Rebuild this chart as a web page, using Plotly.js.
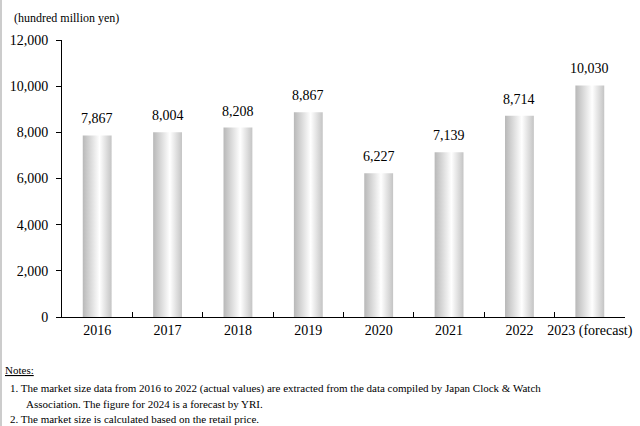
<!DOCTYPE html>
<html>
<head>
<meta charset="utf-8">
<script src="https://cdn.plot.ly/plotly-3.0.1.min.js"></script>
<style>
  html, body { margin: 0; padding: 0; background: #fff; }
  #chart { width: 640px; height: 426px; }
</style>
</head>
<body>
<div id="chart"></div>
<script>
const categories = ["2016", "2017", "2018", "2019", "2020", "2021", "2022", "2023 (forecast)"];
const marketSize = [7867, 8004, 8208, 8867, 6227, 7139, 8714, 10030];
const unitLabel = "(hundred million yen)";
const notesTitle = "Notes:";
const notesLines = [
  "1. The market size data from 2016 to 2022 (actual values) are extracted from the data compiled by Japan Clock & Watch",
  "Association. The figure for 2024 is a forecast by YRI.",
  "2. The market size is calculated based on the retail price."
];

const serif = "Liberation Serif";
const fmt = v => v.toLocaleString("en-US");

const trace = {
  type: "bar",
  x: categories,
  y: marketSize,
  width: 0.41,
  marker: { color: "#d0d0d0", line: { width: 0 } },
  hoverinfo: "skip"
};

const annotations = categories.map((c, i) => ({
  x: i, y: marketSize[i], xref: "x", yref: "y",
  text: fmt(marketSize[i]), showarrow: false,
  yanchor: "bottom", yshift: 7,
  font: { family: serif, size: 14, color: "#000" }
}));

annotations.push({
  xref: "paper", yref: "paper", x: (12 - 62) / 563, y: (317 - 18) / 277,
  xanchor: "left", yanchor: "middle",
  text: unitLabel, showarrow: false,
  font: { family: serif, size: 12, color: "#000" }
});

const allNotes = ["<u>" + notesTitle + "</u>"].concat(notesLines);
const noteX = [3, 8, 24, 8];
const noteY = [370, 388, 404, 419];
allNotes.forEach((t, i) => {
  annotations.push({
    xref: "paper", yref: "paper",
    x: (noteX[i] - 62) / 563,
    y: (317 - noteY[i]) / 277,
    xanchor: "left", yanchor: "middle", align: "left",
    text: t, showarrow: false,
    font: { family: serif, size: 11, color: "#000" }
  });
});

const layout = {
  width: 640, height: 426,
  margin: { l: 62, r: 15, t: 40, b: 109 },
  paper_bgcolor: "#fff", plot_bgcolor: "#fff",
  showlegend: false,
  font: { family: serif, color: "#000" },
  xaxis: {
    type: "category",
    range: [-0.5, categories.length - 0.5], autorange: false,
    showline: true, linecolor: "#000", linewidth: 1,
    ticks: "inside", tickson: "boundaries", ticklen: 5, tickcolor: "#000",
    tickangle: 0,
    showgrid: false, zeroline: false,
    tickfont: { family: serif, size: 14, color: "#000" }
  },
  yaxis: {
    range: [0, 12000], autorange: false, dtick: 2000, tickformat: ",d",
    showline: true, linecolor: "#000", linewidth: 1,
    ticks: "outside", ticklen: 5, tickcolor: "#000", ticklabelstandoff: 5,
    showgrid: false, zeroline: false,
    tickfont: { family: serif, size: 14, color: "#000" }
  },
  annotations: annotations,
  shapes: [{
    type: "line", xref: "paper", yref: "paper",
    x0: -61 / 563, x1: -61 / 563, y0: -109 / 277, y1: 1 + 40 / 277,
    line: { color: "#cccccc", width: 2 }
  }]
};

Plotly.newPlot("chart", [trace], layout, { staticPlot: true, displayModeBar: false }).then(gd => {
  const svg = gd.querySelector("svg.main-svg");
  const ns = "http://www.w3.org/2000/svg";
  let defs = svg.querySelector("defs");
  if (!defs) { defs = document.createElementNS(ns, "defs"); svg.insertBefore(defs, svg.firstChild); }
  const grad = document.createElementNS(ns, "linearGradient");
  grad.setAttribute("id", "barGrad");
  grad.setAttribute("x1", "0"); grad.setAttribute("x2", "1");
  grad.setAttribute("y1", "0"); grad.setAttribute("y2", "0");
  [["0", "#b8b8b8"], ["0.58", "#ffffff"], ["1", "#c4c4c4"]].forEach(([o, c]) => {
    const s = document.createElementNS(ns, "stop");
    s.setAttribute("offset", o); s.setAttribute("stop-color", c);
    grad.appendChild(s);
  });
  defs.appendChild(grad);
  gd.querySelectorAll(".bars .point path").forEach(p => { p.style.fill = "url(#barGrad)"; });
});
</script>
</body>
</html>
